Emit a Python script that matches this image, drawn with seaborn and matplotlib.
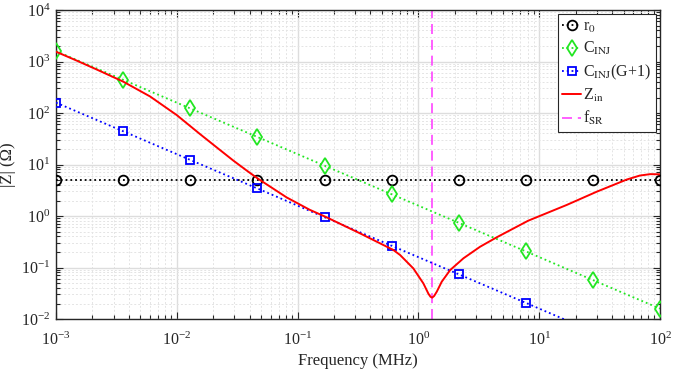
import numpy as np
import pandas as pd
import matplotlib
matplotlib.use("Agg")
import matplotlib.pyplot as plt
from matplotlib.ticker import LogLocator, NullFormatter, LogFormatterSciNotation
import seaborn as sns

# Marker frequencies (MHz) shared by the reference impedance traces
freq_marks = [1e-3, 3.59e-3, 1.29e-2, 4.64e-2, 0.167, 0.599, 2.15, 7.74, 27.8, 100.0]
r0_vals = [5.1, 5.1, 5.1, 5.1, 5.1, 5.1, 5.1, 5.1, 5.1, 5.1]
cinj_vals = [1590, 443, 123, 34.3, 9.5, 2.65, 0.74, 0.206, 0.057, 0.0159]
cinj_g_vals = [159, 44.3, 12.3, 3.43, 0.95, 0.265, 0.074, 0.0206, 0.0057, 0.00159]

# Input impedance magnitude |Z_in| over frequency
zin_freq = [0.001, 0.0015, 0.0022, 0.0036, 0.006, 0.01, 0.0156, 0.022, 0.0294, 0.038,
            0.0473, 0.0813, 0.126, 0.172, 0.329, 0.62, 0.705, 0.908, 1.10, 1.21, 1.26,
            1.30, 1.35, 1.42, 1.56, 1.83, 2.36, 3.24, 4.45, 8.1, 16.9, 29.9, 53.0, 68.0,
            83.0, 100.0]
zin_vals = [1550, 1030, 690, 407, 210, 91, 38.8, 20.4, 11.9, 7.6,
            5.25, 2.29, 1.32, 0.955, 0.46, 0.219, 0.175, 0.096, 0.049, 0.031, 0.027,
            0.026, 0.028, 0.034, 0.053, 0.089, 0.151, 0.253, 0.386, 0.81, 1.64, 2.96, 5.1, 6.1,
            6.5, 6.45]

f_sr = 1.3  # self-resonant frequency (MHz)

sns.set_style("ticks")
plt.rcParams["font.family"] = ["Liberation Serif", "DejaVu Serif"]
plt.rcParams["mathtext.fontset"] = "stix"
plt.rcParams["axes.unicode_minus"] = False

fig = plt.figure(figsize=(6.73, 3.79), dpi=100)
ax = fig.add_axes([0.0832, 0.1583, 0.8975, 0.8153])
ax.set_xscale("log")
ax.set_yscale("log")

marks = pd.DataFrame({"f": freq_marks, "r0": r0_vals, "cinj": cinj_vals, "cinjg": cinj_g_vals})
zin = pd.DataFrame({"f": zin_freq, "z": zin_vals})

green = "#22e622"
sns.lineplot(data=marks, x="f", y="r0", ax=ax, color="black", linestyle=":", lw=1.3,
             marker="o", markersize=7, markerfacecolor="none",
             markeredgecolor="black", markeredgewidth=1.3, label=r"r$_0$", zorder=3)
sns.lineplot(data=marks, x="f", y="cinj", ax=ax, color=green, linestyle=":", lw=1.3,
             marker="d", markersize=8, markerfacecolor="none",
             markeredgecolor=green, markeredgewidth=1.3, label=r"C$_{\rm INJ}$", zorder=4)
sns.lineplot(data=marks, x="f", y="cinjg", ax=ax, color="#0000ff", linestyle=":", lw=1.3,
             marker="s", markersize=5.5, markerfacecolor="none",
             markeredgecolor="#0000ff", markeredgewidth=1.3, label=r"C$_{\rm INJ}$(G+1)", zorder=4)
sns.lineplot(data=zin, x="f", y="z", ax=ax, color="#ff0000", lw=1.4,
             label=r"Z$_{\rm in}$", zorder=5, sort=True)
ax.axvline(f_sr, color="#ff44ff", lw=1.2, linestyle=(0, (6, 3.5)), label=r"f$_{\rm SR}$", zorder=2)

ax.set_xlim(1e-3, 1e2)
ax.set_ylim(1e-2, 1e4)

for axis in (ax.xaxis, ax.yaxis):
    axis.set_major_locator(LogLocator(base=10, numticks=100))
    axis.set_minor_locator(LogLocator(base=10, subs=np.arange(2, 10), numticks=100))
    axis.set_minor_formatter(NullFormatter())
    axis.set_major_formatter(LogFormatterSciNotation())

ax.grid(True, which="major", color="#dddddd", lw=1.0, linestyle="-", zorder=0)
ax.grid(True, which="minor", color="#e4e4e4", lw=0.7, linestyle=(0, (2, 2)), zorder=0)
ax.set_axisbelow(True)

ax.tick_params(which="both", direction="in", top=True, right=True, colors="#262626",
               labelsize=11.5, width=0.8)
ax.tick_params(axis="x", which="major", length=5, pad=9)
ax.tick_params(axis="y", which="major", length=5, pad=4)
ax.tick_params(which="minor", length=3)
for sp in ax.spines.values():
    sp.set_visible(True)
    sp.set_color("#262626")
    sp.set_linewidth(1.0)

ax.set_xlabel("Frequency (MHz)", fontsize=12, color="#262626", labelpad=3)
ax.set_ylabel("|Z| (Ω)", fontsize=12, color="#262626")
ax.yaxis.set_label_coords(-0.066, 0.5)

leg = ax.legend(loc="upper right", fontsize=11.5, frameon=True, fancybox=False,
                edgecolor="#262626", framealpha=1, borderaxespad=0.25,
                handlelength=1.2, handletextpad=0.1, labelspacing=0.33,
                borderpad=0.3)
leg.get_frame().set_linewidth(0.8)

fig.savefig("out.png", dpi=100)
